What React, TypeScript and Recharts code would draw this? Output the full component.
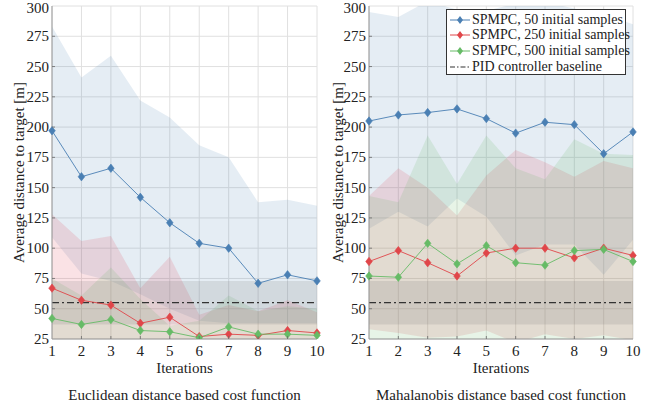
import React from "react";
import {
  ComposedChart,
  Line,
  Area,
  XAxis,
  YAxis,
  CartesianGrid,
} from "recharts";

const iterations = [1, 2, 3, 4, 5, 6, 7, 8, 9, 10];
const yTicks = [25, 50, 75, 100, 125, 150, 175, 200, 225, 250, 275, 300];

// Euclidean distance based cost function
const euc50 = [197, 159, 166, 142, 121, 104, 100, 71, 78, 73];
const euc50Hi = [283, 241, 259, 222, 208, 185, 175, 138, 140, 135];
const euc50Lo = [109, 79, 73, 62, 50, 40, 38, 38, 38, 38];
const euc250 = [67, 57, 53, 38, 43, 27, 29, 28, 32, 30];
const euc250Hi = [128, 106, 110, 67, 93, 45, 53, 48, 57, 47];
const euc250Lo = [12, 12, 12, 12, 12, 12, 12, 12, 12, 12];
const euc500 = [42, 37, 41, 32, 31, 26, 35, 29, 29, 28];
const euc500Hi = [75, 61, 84, 58, 36, 40, 61, 48, 52, 50];
const euc500Lo = [10, 10, 10, 10, 10, 10, 10, 10, 10, 10];

// Mahalanobis distance based cost function
const mah50 = [205, 210, 212, 215, 207, 195, 204, 202, 178, 196];
const mah50Hi = [295, 291, 304, 297, 296, 302, 303, 298, 293, 285];
const mah50Lo = [116, 130, 118, 141, 126, 94, 103, 103, 78, 107];
const mah250 = [89, 98, 88, 77, 96, 100, 100, 92, 100, 94];
const mah250Hi = [143, 166, 150, 127, 160, 181, 171, 159, 172, 166];
const mah250Lo = [33, 30, 26, 27, 32, 22, 29, 25, 28, 24];
const mah500 = [77, 76, 104, 87, 102, 88, 86, 98, 99, 89];
const mah500Hi = [143, 138, 193, 153, 193, 166, 157, 190, 178, 177];
const mah500Lo = [15, 15, 15, 15, 15, 15, 15, 15, 15, 15];

// PID controller baseline
const pidMean = 55;
const pidLo = 37;
const pidHi = 73;

const legendNames = [
  "SPMPC, 50 initial samples",
  "SPMPC, 250 initial samples",
  "SPMPC, 500 initial samples",
  "PID controller baseline",
];

const BLUE = "#4a7fb3";
const RED = "#e0464a";
const GREEN = "#66bb66";
const AXIS = "#9a9a9a";
const TICKMARK = "#6a6a6a";
const FONT = "'Liberation Serif', 'Times New Roman', serif";

function build(m50, h50, l50, m250, h250, l250, m500, h500, l500) {
  return iterations.map((it, i) => ({
    it,
    m50: m50[i],
    b50: [l50[i], h50[i]],
    m250: m250[i],
    b250: [l250[i], h250[i]],
    m500: m500[i],
    b500: [l500[i], h500[i]],
    pid: pidMean,
    pidBand: [pidLo, pidHi],
  }));
}

const eucData = build(euc50, euc50Hi, euc50Lo, euc250, euc250Hi, euc250Lo, euc500, euc500Hi, euc500Lo);
const mahData = build(mah50, mah50Hi, mah50Lo, mah250, mah250Hi, mah250Lo, mah500, mah500Hi, mah500Lo);

const diamond = (color: string) => (props: any) => {
  const { cx, cy, index } = props;
  if (cx == null || cy == null) return <g key={index} />;
  return (
    <path
      key={index}
      d={`M${cx},${cy - 4.2} L${cx + 3.3},${cy} L${cx},${cy + 4.2} L${cx - 3.3},${cy} Z`}
      fill={color}
      stroke={color}
      strokeWidth={0.6}
    />
  );
};

const txtStyle = { fontFamily: FONT, fontSize: "15px" };

const XTick = (props: any) => {
  const { x, y, payload } = props;
  const edge = payload.value === 1 || payload.value === 10;
  return (
    <g>
      {!edge && <line x1={x} y1={y} x2={x} y2={y - 3} stroke={TICKMARK} strokeWidth={0.8} />}
      <text x={x} y={y + 7} textAnchor="middle" dominantBaseline="hanging" fill="#222" style={txtStyle}>
        {payload.value}
      </text>
    </g>
  );
};

const YTick = (props: any) => {
  const { x, y, payload } = props;
  const edge = payload.value === 25 || payload.value === 300;
  const ty = payload.value === 300 ? y + 1.5 : y;
  return (
    <g>
      {!edge && <line x1={x} y1={y} x2={x + 3} y2={y} stroke={TICKMARK} strokeWidth={0.8} />}
      <text x={x - 3} y={ty} textAnchor="end" dominantBaseline="central" fill="#222" style={txtStyle}>
        {payload.value}
      </text>
    </g>
  );
};

const RTick = (props: any) => {
  const { x, y, payload } = props;
  if (payload.value === 25 || payload.value === 300) return <g />;
  return <line x1={x} y1={y} x2={x - 3} y2={y} stroke={TICKMARK} strokeWidth={0.8} />;
};

const TTick = (props: any) => {
  const { x, y, payload } = props;
  if (payload.value === 1 || payload.value === 10) return <g />;
  return <line x1={x} y1={y} x2={x} y2={y + 3} stroke={TICKMARK} strokeWidth={0.8} />;
};

const YTitle = (props: any) => {
  const { viewBox, cx } = props;
  const y = viewBox.y + viewBox.height / 2;
  return (
    <text
      x={cx}
      y={y}
      transform={`rotate(-90 ${cx} ${y})`}
      textAnchor="middle"
      dominantBaseline="central"
      style={txtStyle}
      fill="#222"
    >
      Average distance to target [m]
    </text>
  );
};

const XTitle = (props: any) => {
  const { viewBox, subtitle } = props;
  const x = viewBox.x + viewBox.width / 2;
  return (
    <g>
      <text x={x} y={viewBox.y + 29} textAnchor="middle" dominantBaseline="central" style={txtStyle} fill="#222">
        Iterations
      </text>
      <text x={x} y={viewBox.y + 56} textAnchor="middle" dominantBaseline="central" style={txtStyle} fill="#222">
        {subtitle}
      </text>
    </g>
  );
};

const LegendBox = () => {
  const colors = [BLUE, RED, GREEN, "#333"];
  return (
    <div
      style={{
        position: "absolute",
        left: 446,
        top: 9,
        width: 180,
        height: 66,
        border: "1px solid #333",
        background: "#fff",
        fontFamily: FONT,
        fontSize: 14,
        color: "#222",
        boxSizing: "border-box",
        paddingTop: 2,
      }}
    >
      {legendNames.map((n, i) => (
        <div key={n} style={{ display: "flex", alignItems: "center", height: 15.6, whiteSpace: "nowrap" }}>
          <svg width={25} height={12} style={{ flex: "none" }}>
            {i < 3 ? (
              <>
                <line x1={3} y1={6} x2={23} y2={6} stroke={colors[i]} strokeWidth={1} />
                <path d="M13,2 L16,6 L13,10 L10,6 Z" fill={colors[i]} />
              </>
            ) : (
              <line x1={3} y1={6} x2={23} y2={6} stroke="#333" strokeWidth={1.2} strokeDasharray="5 2 1.5 2" />
            )}
          </svg>
          <span>{n}</span>
        </div>
      ))}
    </div>
  );
};

function Panel({ data, width, margin, yWidth, yTitleX, subtitle }: any) {
  return (
    <ComposedChart width={width} height={412} data={data} margin={margin}>
      <CartesianGrid stroke="#e0e0e0" strokeWidth={1} vertical horizontal />
      <Area dataKey="b50" type="linear" stroke="none" fill="#4682b4" fillOpacity={0.14} isAnimationActive={false} />
      <Area dataKey="b250" type="linear" stroke="none" fill="#dc3c50" fillOpacity={0.15} isAnimationActive={false} />
      <Area dataKey="b500" type="linear" stroke="none" fill="#5cb85c" fillOpacity={0.15} isAnimationActive={false} />
      <Area dataKey="pidBand" type="linear" stroke="none" fill="#6e6e6e" fillOpacity={0.16} isAnimationActive={false} />
      <Line dataKey="pid" type="linear" stroke="#333" strokeWidth={1.4} strokeDasharray="7 3 2 3" dot={false} isAnimationActive={false} />
      <Line dataKey="m50" type="linear" stroke={BLUE} strokeWidth={0.9} dot={diamond(BLUE)} isAnimationActive={false} />
      <Line dataKey="m250" type="linear" stroke={RED} strokeWidth={0.9} dot={diamond(RED)} isAnimationActive={false} />
      <Line dataKey="m500" type="linear" stroke={GREEN} strokeWidth={0.9} dot={diamond(GREEN)} isAnimationActive={false} />
      <XAxis
        dataKey="it"
        type="number"
        domain={[1, 10]}
        ticks={iterations}
        interval={0}
        height={73}
        tickLine={false}
        tickSize={0}
        tickMargin={0}
        axisLine={{ stroke: AXIS }}
        tick={<XTick />}
        label={<XTitle subtitle={subtitle} />}
      />
      <XAxis
        xAxisId="top"
        orientation="top"
        type="number"
        domain={[1, 10]}
        ticks={iterations}
        interval={0}
        height={0}
        tickLine={false}
        tickSize={0}
        tickMargin={0}
        tick={<TTick />}
        axisLine={{ stroke: AXIS }}
      />
      <YAxis
        type="number"
        domain={[25, 300]}
        ticks={yTicks}
        interval={0}
        allowDataOverflow
        width={yWidth}
        tickLine={false}
        tickSize={0}
        tickMargin={0}
        axisLine={{ stroke: AXIS }}
        tick={<YTick />}
        label={<YTitle cx={yTitleX} />}
      />
      <YAxis
        yAxisId="right"
        orientation="right"
        type="number"
        domain={[25, 300]}
        ticks={yTicks}
        interval={0}
        width={0}
        tickLine={false}
        tickSize={0}
        tickMargin={0}
        tick={<RTick />}
        axisLine={{ stroke: AXIS }}
      />
    </ComposedChart>
  );
}

export default function App() {
  return (
    <div style={{ position: "absolute", left: 0, top: 0, width: 657, height: 412, background: "#fff", fontFamily: FONT }}>
      <div style={{ position: "absolute", left: 0, top: 0 }}>
        <Panel
          data={eucData}
          width={330}
          margin={{ top: 6, right: 13, bottom: 0, left: 0 }}
          yWidth={52}
          yTitleX={19}
          subtitle="Euclidean distance based cost function"
        />
      </div>
      <div style={{ position: "absolute", left: 330, top: 0 }}>
        <Panel
          data={mahData}
          width={327}
          margin={{ top: 6, right: 24, bottom: 0, left: 0 }}
          yWidth={39}
          yTitleX={8}
          subtitle="Mahalanobis distance based cost function"
        />
      </div>
      <LegendBox />
    </div>
  );
}
